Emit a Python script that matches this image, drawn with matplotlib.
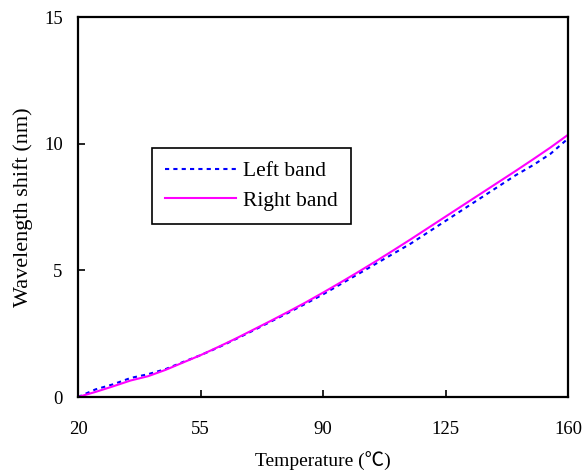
import matplotlib
matplotlib.use("Agg")
import matplotlib.pyplot as plt

# Temperature (deg C) and wavelength shift (nm)
temperature = [20, 25, 30, 35, 40, 45, 50, 55, 60, 65, 70, 75, 80, 85, 90,
               95, 100, 105, 110, 115, 120, 125, 130, 135, 140, 145, 150, 155, 160]
left_band = [0.0, 0.3, 0.5, 0.75, 0.9, 1.1, 1.38, 1.65, 1.95, 2.28, 2.62, 2.97, 3.32, 3.68, 4.05,
             4.45, 4.85, 5.25, 5.65, 6.05, 6.5, 6.95, 7.4, 7.85, 8.3, 8.75, 9.15, 9.6, 10.2]
right_band = [0.0, 0.2, 0.42, 0.65, 0.82, 1.07, 1.36, 1.65, 1.97, 2.3, 2.65, 3.0, 3.36, 3.73, 4.12,
              4.52, 4.93, 5.35, 5.78, 6.22, 6.67, 7.12, 7.57, 8.02, 8.47, 8.92, 9.38, 9.85, 10.35]

x_ticks = [20, 55, 90, 125, 160]
y_ticks = [0, 5, 10, 15]

serif = ["Liberation Serif", "Noto Sans CJK SC", "DejaVu Sans"]
plt.rcParams["font.family"] = serif

fig = plt.figure(figsize=(5.84, 4.72), dpi=100)
ax = fig.add_axes([78 / 584, 75 / 472, 490 / 584, 380 / 472])

ax.plot(temperature, left_band, color="#0000ff", lw=1.5, ls=(0, (2, 2)), label="Left band")
ax.plot(temperature, right_band, color="#ff00ff", lw=1.5, label="Right band")

ax.set_xlim(20, 160)
ax.set_ylim(0, 15)
ax.set_xticks(x_ticks)
ax.set_yticks(y_ticks)
ax.tick_params(axis="x", direction="in", length=5, width=1.2, pad=17, labelsize=13.5)
ax.tick_params(axis="y", direction="in", length=5, width=1.2, pad=11, labelsize=13.5)
for s in ax.spines.values():
    s.set_linewidth(1.6)

ax.set_xlabel("Temperature (℃)", fontsize=14, labelpad=10)
ax.set_ylabel("Wavelength shift (nm)", fontsize=16, labelpad=8)

leg = ax.legend(loc="upper left", bbox_to_anchor=(0.151, 0.655), fontsize=15.5,
                frameon=True, fancybox=False, edgecolor="black", framealpha=1,
                borderaxespad=0, handlelength=3.3, handletextpad=0.35,
                borderpad=0.6, labelspacing=0.45)
leg.get_frame().set_linewidth(1.2)

fig.savefig("out.png", dpi=100)
plt.close(fig)
